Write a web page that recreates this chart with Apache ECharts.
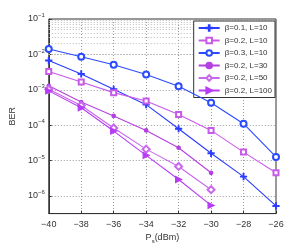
<!DOCTYPE html>
<html><head><meta charset="utf-8">
<script src="https://cdn.jsdelivr.net/npm/echarts@6/dist/echarts.min.js"></script>
<style>html,body{margin:0;padding:0;background:#fff}#c{width:305px;height:249px}</style>
</head><body><div id="c"></div>
<script>
var xValues = [-40, -38, -36, -34, -32, -30, -28, -26];
var seriesNames = ['β=0.1, L=10', 'β=0.2, L=10', 'β=0.3, L=10', 'β=0.2, L=30', 'β=0.2, L=50', 'β=0.2, L=100'];
var b01L10 = [6.7e-3, 2.8e-3, 1.03e-3, 3.8e-4, 7.9e-5, 1.6e-5, 3.5e-6, 5.2e-7];
var b02L10 = [3.3e-3, 1.65e-3, 8.3e-4, 4.8e-4, 2.0e-4, 7.1e-5, 1.73e-5, 4.5e-6];
var b03L10 = [1.42e-2, 8.6e-3, 5.1e-3, 2.7e-3, 1.26e-3, 4.3e-4, 1.1e-4, 1.26e-5];
var b02L30 = [1.29e-3, 4.5e-4, 1.82e-4, 7.1e-5, 2.3e-5, 4.5e-6];
var b02L50 = [1.03e-3, 3.6e-4, 8.3e-5, 2.1e-5, 6.8e-6, 1.5e-6];
var b02L100 = [9.3e-4, 3.1e-4, 6.8e-5, 1.4e-5, 2.9e-6, 5.4e-7];
var colors = ['#2a3cff', '#c85ae8', '#2b4bff', '#b540e0', '#c868ec', '#b83cf5'];

function pairs(arr){ return arr.map(function(v,i){ return [xValues[i], v]; }); }
var minorLines = [];
for (var e = -7; e <= -2; e++) {
  for (var k = 2; k <= 9; k++) {
    var v = k * Math.pow(10, e);
    if (v > Math.pow(10, -6.5) && v < 0.1) minorLines.push({yAxis: v});
  }
}
var font = 'Liberation Sans, Arial, sans-serif';
var plus = 'path://M4.4,0h1.2v10h-1.2zM0,4.4h10v1.2h-10z';
var chart = echarts.init(document.getElementById('c'));
var mk = function(i, data, symbol, size, extra){
  var s = {
    name: seriesNames[i], type: 'line', data: pairs(data),
    symbol: symbol, symbolSize: size, color: colors[i],
    lineStyle: {width: 1.1, color: colors[i]},
    itemStyle: {color: colors[i], borderColor: colors[i], borderWidth: 1.2},
    animation: false, z: 5
  };
  for (var key in extra) s[key] = extra[key];
  return s;
};
var series = [
  mk(0, b01L10, plus, 6, {}),
  mk(1, b02L10, 'emptyRect', 5, {}),
  mk(2, b03L10, 'emptyCircle', 6, {}),
  mk(3, b02L30, 'circle', 3.5, {}),
  mk(4, b02L50, 'emptyDiamond', 7, {}),
  mk(5, b02L100, 'triangle', 6, {symbolRotate: -90})
];
series[0].markLine = {
  silent: true, symbol: 'none', animation: false, label: {show: false},
  lineStyle: {type: [1, 2], color: '#bbb', width: 1}, data: minorLines, z: 1
};
chart.setOption({
  animation: false,
  textStyle: {fontFamily: font},
  grid: {left: 40, right: 29, top: 19, bottom: 29, show: true, borderColor: '#333', borderWidth: 1, backgroundColor: 'transparent'},
  legend: {
    orient: 'vertical', right: 30, top: 21, data: seriesNames,
    backgroundColor: '#fff', borderColor: '#333', borderWidth: 1,
    padding: [3, 3, 3, 4], itemWidth: 21, itemHeight: 7, itemGap: 4.5,
    textStyle: {fontSize: 8, color: '#333', fontFamily: font}
  },
  xAxis: {
    type: 'value', min: -40, max: -26, interval: 2,
    axisLine: {lineStyle: {color: '#333'}},
    axisTick: {inside: true, length: 3, lineStyle: {color: '#333'}},
    axisLabel: {fontSize: 9, color: '#333', margin: 6, formatter: function(v){ return String(v).replace('-', '−'); }},
    splitLine: {show: true, lineStyle: {type: [1, 2], color: '#999'}},
    name: '{a|P}{s|s}{a|(dBm)}', nameLocation: 'middle', nameGap: 16,
    nameTextStyle: {rich: {a: {fontSize: 9, color: '#333'}, s: {fontSize: 6, color: '#333', padding: [6, 0, 0, 0]}}}
  },
  yAxis: {
    type: 'log', logBase: 10, min: Math.pow(10, -6.5), max: 0.1,
    axisLine: {lineStyle: {color: '#333'}},
    axisTick: {inside: true, length: 3, lineStyle: {color: '#333'}},
    axisLabel: {
      color: '#333', margin: 4,
      formatter: function(v){
        var ex = Math.log10(v);
        var r = Math.round(ex);
        if (Math.abs(ex - r) > 1e-6) return '';
        return '{b|10}{e|' + String(r).replace('-', '−') + '}';
      },
      rich: {b: {fontSize: 9, color: '#333'}, e: {fontSize: 6, color: '#333', padding: [0, 0, 7, 0]}}
    },
    splitLine: {show: true, lineStyle: {type: [1, 2], color: '#999'}},
    name: 'BER', nameLocation: 'middle', nameGap: 28,
    nameTextStyle: {fontSize: 9, color: '#333'}
  },
  series: series
});
</script></body></html>
